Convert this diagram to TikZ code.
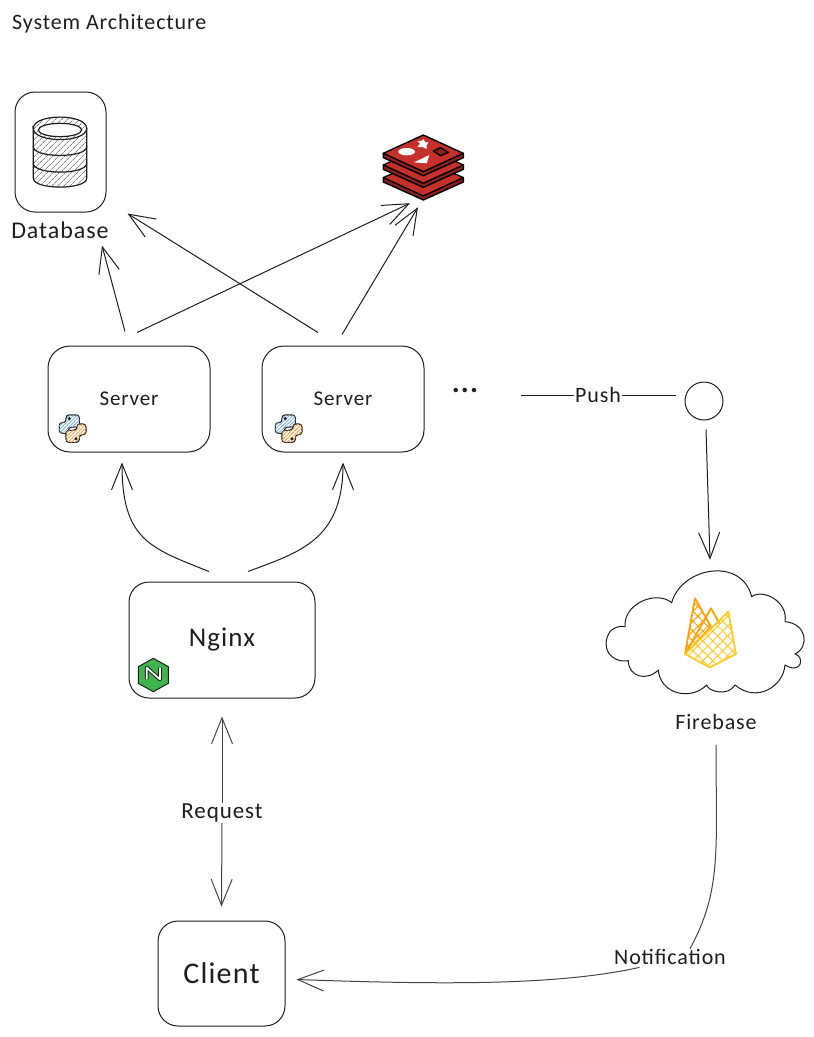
\documentclass[tikz,border=0pt]{standalone}
\usepackage{fontspec}
\setmainfont[LetterSpace=4]{Carlito}
\usetikzlibrary{arrows.meta,patterns.meta}
\definecolor{archink}{HTML}{1E1E1E}
\definecolor{archline}{HTML}{444444}
\definecolor{archred}{HTML}{C6302B}
\definecolor{archdark}{HTML}{8F1F1B}
\definecolor{archgreen}{HTML}{3DB54A}
\definecolor{archblue}{HTML}{7FB2DE}
\definecolor{archorange}{HTML}{F2A650}
\definecolor{archamber}{HTML}{FFA000}
\definecolor{archyellow}{HTML}{FFCA28}
\tikzset{
  blk/.style={draw=archink, fill=white, rounded corners=20pt, align=center, line width=1pt},
  txt/.style={text=archink, inner sep=1pt, font=\fontsize{22}{24}\selectfont},
  cut/.style={txt, fill=white, inner sep=0.5pt},
  arr/.style={-{Straight Barb[length=26pt,width=21pt,line width=1pt]}, line width=1pt, color=archink},
  tie/.style={line width=1pt, color=archink},
}
\begin{document}
\begin{tikzpicture}[x=1pt, y=-1pt]
    \useasboundingbox (0,0) rectangle (814,1037);
    \node[txt, anchor=west] (title) at (11,24) {System Architecture};
    \node[blk, minimum width=91pt, minimum height=120pt] (dbbox) at (60.5,152) {};
    \node[txt, font=\fontsize{24}{26}\selectfont] (dblabel) at (60,230) {Database};
    \foreach \n/\x in {srvA/129, srvB/343}
      { \node[blk, txt, rounded corners=22pt, font=\fontsize{21}{24}\selectfont, minimum width=162pt, minimum height=106pt] (\n) at (\x,399) {Server}; }
    \node[blk, txt, minimum width=186pt, minimum height=116pt, font=\fontsize{27}{30}\selectfont] (nginx) at (222,640) {\raisebox{-3pt}{Nginx}};
    \node[blk, txt, minimum width=127pt, minimum height=105pt, font=\fontsize{30}{33}\selectfont] (client) at (221.5,973.5) {Client};
    \node[minimum width=82pt, minimum height=66pt, inner sep=0pt] (redis) at (424,167) {};
    \node[txt, font=\bfseries\fontsize{30}{30}\selectfont] (dots) at (465,390) {...};
    \node[circle, draw=archink, line width=1pt, minimum size=38pt, inner sep=0pt] (hub) at (704,401) {};
    \node[minimum width=200pt, minimum height=126pt, inner sep=0pt] (cloud) at (705,633) {};
    \node[txt] (fblabel) at (716,722) {Firebase};
    % database icon
    \begin{scope}[shift={(0,80)}, scale=1/3, line width=1.2pt]
      \foreach \t/\b in {250/295, 200/250, 145/200}
        { \filldraw[draw=archink, fill=white] (100,\t) -- (100,\b) .. controls (100,\b+35) and (260,\b+35) .. (260,\b) -- (260,\t) -- cycle;
          \path[pattern={Lines[angle=45,distance=4pt,line width=0.6pt]}, pattern color=archline] (100,\t) -- (100,\b) .. controls (100,\b+35) and (260,\b+35) .. (260,\b) -- (260,\t) -- cycle; }
      \filldraw[draw=archink, fill=white] (100,145) .. controls (100,100) and (260,100) .. (260,145) .. controls (260,190) and (100,190) .. cycle;
      \path[pattern={Lines[angle=45,distance=4pt,line width=0.6pt]}, pattern color=archline] (100,145) .. controls (100,100) and (260,100) .. (260,145) .. controls (260,190) and (100,190) .. cycle;
      \filldraw[draw=archink, fill=white] (180,150) ellipse (65 and 20);
    \end{scope}
    % redis icon
    \begin{scope}[shift={(370,125)}, scale=1/3, line width=1.4pt, line join=round]
      \foreach \d in {73, 35, 0}
        { \filldraw[draw=black, fill=archdark] (40,85+\d) -- (40,98+\d) -- (160,152+\d) -- (280,98+\d) -- (280,85+\d) -- cycle;
          \filldraw[draw=black, fill=archred] (160,30+\d) -- (280,85+\d) -- (160,140+\d) -- (40,85+\d) -- cycle; }
      \fill[white] (110,80) ellipse (25 and 11);
      \fill[white] (160,42) -- (166,52) -- (176,52) -- (170,60) -- (170,72) -- (158,66) -- (142,66) -- (150,56) -- (142,48) -- (154,48) -- cycle;
      \fill[white] (132,112) -- (178,90) -- (170,115) -- cycle;
      \filldraw[draw=black, fill=archdark] (190,78) -- (212,68) -- (235,82) -- (212,92) -- cycle;
    \end{scope}
    % python icons
    \foreach \dx in {0,216}
      { \begin{scope}[shift={(40+\dx,370)}, scale=1/3, line width=1.1pt, rounded corners=3pt]
          \filldraw[draw=archink, fill=white] (78,158) -- (78,135) -- (118,135) -- (118,170) -- (85,172) -- (85,190) -- (58,190) -- (58,158) -- cycle;
          \path[pattern={Lines[angle=45,distance=2.5pt,line width=0.9pt]}, pattern color=archblue] (78,158) -- (78,135) -- (118,135) -- (118,170) -- (85,172) -- (85,190) -- (58,190) -- (58,158) -- cycle;
          \filldraw[draw=archink, fill=white] (118,194) -- (118,217) -- (78,217) -- (78,182) -- (111,180) -- (111,162) -- (138,162) -- (138,194) -- cycle;
          \path[pattern={Lines[angle=45,distance=2.5pt,line width=0.9pt]}, pattern color=archorange] (118,194) -- (118,217) -- (78,217) -- (78,182) -- (111,180) -- (111,162) -- (138,162) -- (138,194) -- cycle;
          \fill[archink] (88,146) circle (5);
          \fill[archink] (108,206) circle (5);
        \end{scope} }
    % nginx icon
    \begin{scope}[shift={(125,620)}, scale=1/3, line join=round]
      \filldraw[draw=archink, fill=archgreen, line width=1pt] (85,115) -- (130,140) -- (130,190) -- (85,215) -- (40,190) -- (40,140) -- cycle;
      \draw[archink, line width=3.8pt] (65,178) -- (65,143) -- (105,178) -- (105,143);
      \draw[white, line width=1.7pt] (65,178) -- (65,143) -- (105,178) -- (105,143);
    \end{scope}
    % cloud and firebase icon
    \begin{scope}[shift={(600,560)}, scale=1/3, line join=round]
      \draw[archink, line width=1pt] (215,128) .. controls (245,20) and (425,-10) .. (455,110)
        .. controls (490,85) and (565,125) .. (555,185) .. controls (620,190) and (630,260) .. (585,282)
        .. controls (615,290) and (605,345) .. (555,315) .. controls (550,380) and (470,430) .. (405,375)
        .. controls (385,410) and (325,395) .. (320,375) .. controls (270,425) and (180,400) .. (175,330)
        .. controls (140,365) and (85,350) .. (85,302) .. controls (30,310) and (0,260) .. (30,215)
        .. controls (45,198) and (65,198) .. (75,200) .. controls (70,130) and (170,90) .. (215,128) -- cycle;
      \path[pattern={Hatch[angle=45,distance=7pt,line width=1pt]}, pattern color=archyellow] (255,282) -- (385,155) -- (408,282) -- (330,322) -- cycle;
      \path[pattern={Hatch[angle=45,distance=7pt,line width=1pt]}, pattern color=archamber] (255,282) -- (285,115) -- (333,200) -- cycle;
      \draw[archamber, line width=1.8pt] (255,282) -- (285,115) -- (333,200) -- cycle;
      \draw[archamber, line width=1.8pt] (255,282) -- (333,145) -- (358,190);
      \draw[archyellow, line width=1.8pt] (255,282) -- (385,155) -- (408,282) -- (330,322) -- cycle;
    \end{scope}
    % connectors
    \draw[arr] ([shift={(-4,-14)}]srvA.north) -- ([shift={(42,6)}]dblabel.south);
    \draw[arr] ([shift={(8,-13)}]srvA.north) -- ([shift={(-14,3)}]redis.south);
    \draw[arr] ([shift={(-25,-13)}]srvB.north) -- ([shift={(67,1)}]dbbox.south);
    \draw[arr] ([shift={(-1,-11)}]srvB.north) -- ([shift={(-6,7)}]redis.south);
    \draw[arr] ([shift={(-13,-10)}]nginx.north) .. controls (150,548) and (122,540) .. ([shift={(-7,10)}]srvA.south);
    \draw[arr] ([shift={(26,-10)}]nginx.north) .. controls (300,552) and (343,540) .. ([shift={(0,10)}]srvB.south);
    \node[cut] (push) at (598,395) {Push};
    \draw[tie] ([shift={(42,5)}]dots.east) -- (push.west);
    \draw[tie] (push.east) -- ([shift={(-9,-6)}]hub.west);
    \draw[arr] ([shift={(2,9)}]hub.south) -- ([shift={(5,-10)}]cloud.north);
    \node[cut, font=\fontsize{23}{24}\selectfont] (request) at (222,813) {Request};
    \draw[arr, color=archline] (request.north) -- ([yshift=-18pt]nginx.south);
    \draw[arr, color=archline] (request.south) -- ([yshift=14pt]client.north);
    \node[cut] (notif) at (670,957) {Notification};
    \draw[tie, color=archline] ([yshift=-14pt]fblabel.south) .. controls (716,850) and (722,890) .. ([shift={(20,0)}]notif.north);
    \draw[arr, color=archline] ([shift={(26,2)}]notif.south west) .. controls (560,985) and (450,985) .. ([shift={(11,6)}]client.east);
\end{tikzpicture}
\end{document}
